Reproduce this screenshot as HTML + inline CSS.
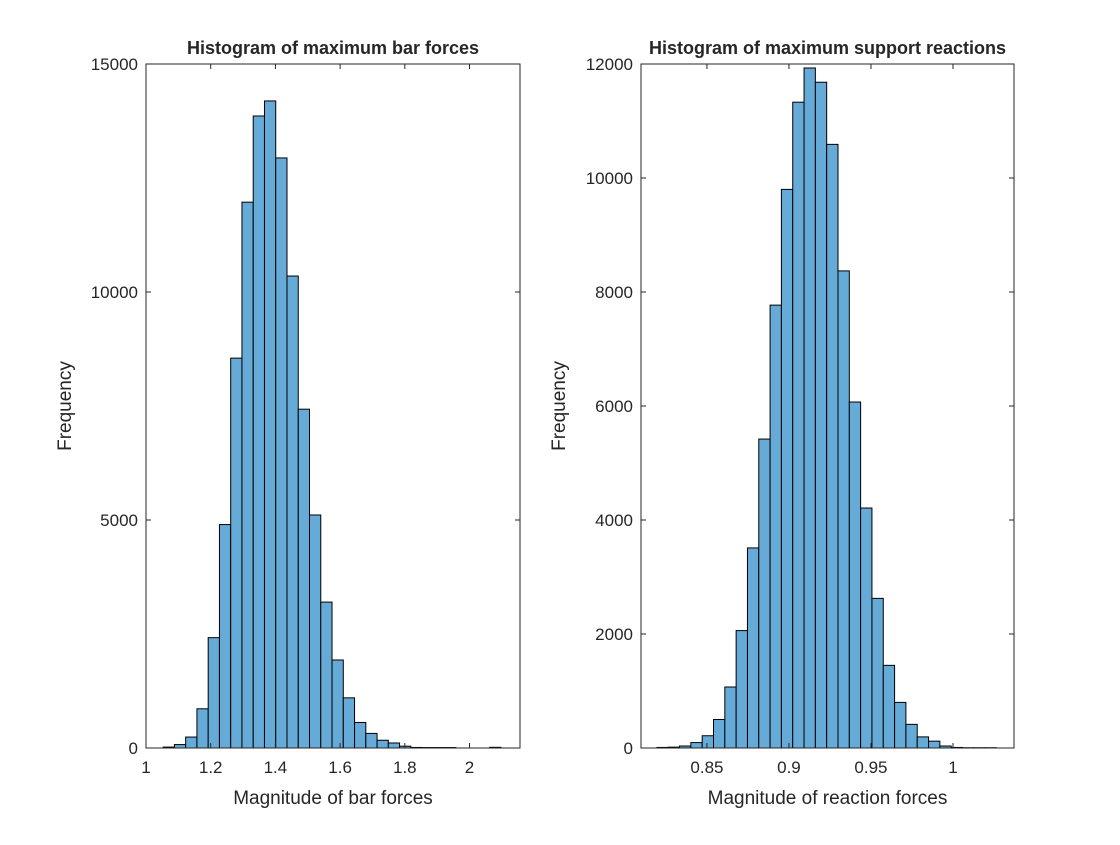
<!DOCTYPE html>
<html><head><meta charset="utf-8"><style>
body{margin:0;background:#fff;}
svg text{font-family:"Liberation Sans",sans-serif;fill:#262626;}
</style></head><body>
<svg id="fig" width="1120" height="840" xmlns="http://www.w3.org/2000/svg">
<rect width="1120" height="840" fill="#fff"/>
</svg>
<script>
const barCounts=[20,75,240,860,2420,4900,8550,11970,13860,14190,12940,10350,7430,5110,3200,1930,1100,560,320,170,110,40,12,10,10,10,0,0,0,15];
const barEdgeStart=1.053, barBinWidth=0.0348;
const barXTicks=[1,1.2,1.4,1.6,1.8,2];
const barXTickLabels=["1","1.2","1.4","1.6","1.8","2"];
const barYTicks=[0,5000,10000,15000];
const reacCounts=[10,15,35,95,215,500,1070,2060,3510,5420,7770,9800,11330,11930,11680,10590,8370,6070,4210,2625,1450,800,415,195,120,35,10,5,5,5];
const reacEdgeStart=0.8195, reacBinWidth=0.0069;
const reacXTicks=[0.85,0.9,0.95,1];
const reacXTickLabels=["0.85","0.9","0.95","1"];
const reacYTicks=[0,2000,4000,6000,8000,10000,12000];

const NS="http://www.w3.org/2000/svg";
const svg=document.getElementById('fig');
function mk(tag,attrs,parent){const e=document.createElementNS(NS,tag);for(const k in attrs)e.setAttribute(k,attrs[k]);(parent||svg).appendChild(e);return e;}

function drawPanel(o){
  const g=mk('g',{});
  
  
  const L=o.L,R=o.R,T=64,B=748;
  const xs=v=>L+(v-o.xmin)/(o.xmax-o.xmin)*(R-L);
  const ys=v=>B-(v/o.ymax)*(B-T);
  o.counts.forEach((c,i)=>{
    if(c<=0)return;
    const x0=xs(o.start+i*o.w),x1=xs(o.start+(i+1)*o.w);
    const r=mk('rect',{x:x0,y:ys(c),width:x1-x0,height:B-ys(c),fill:'#66AAD7',stroke:'#000','stroke-width':1},g);
    
    
  });
  const box=mk('rect',{x:L,y:T,width:R-L,height:B-T,fill:'none',stroke:'#262626','stroke-width':1},g);
  
  
  o.xt.forEach((v,i)=>{
    const x=xs(v);
    mk('line',{x1:x,x2:x,y1:B,y2:B-5,stroke:'#262626'},g);
    mk('line',{x1:x,x2:x,y1:T,y2:T+5,stroke:'#262626'},g);
    const t=mk('text',{x:x,y:B+25,'text-anchor':'middle','font-size':17},g);
    t.textContent=o.xl[i];
    
    
  });
  o.yt.forEach(v=>{
    const y=ys(v);
    mk('line',{x1:L,x2:L+5,y1:y,y2:y,stroke:'#262626'},g);
    mk('line',{x1:R,x2:R-5,y1:y,y2:y,stroke:'#262626'},g);
    const t=mk('text',{x:L-8,y:y+6,'text-anchor':'end','font-size':17},g);
    t.textContent=String(v);
    
    
  });
  const ti=mk('text',{x:(L+R)/2,y:54,'text-anchor':'middle','font-size':18,'font-weight':'bold'},g);
  ti.textContent=o.title;
  
  
  const xl=mk('text',{x:(L+R)/2,y:804,'text-anchor':'middle','font-size':19},g);
  xl.textContent=o.xlabel;
  
  
  const yl=mk('text',{x:o.ylx,y:(T+B)/2,'text-anchor':'middle','font-size':19,transform:`rotate(-90 ${o.ylx} ${(T+B)/2})`},g);
  yl.textContent='Frequency';
  
  
}
drawPanel({name:'bar-forces-histogram',L:146,R:520,xmin:1,xmax:2.156,ymax:15000,counts:barCounts,start:barEdgeStart,w:barBinWidth,xt:barXTicks,xl:barXTickLabels,yt:barYTicks,title:'Histogram of maximum bar forces',xlabel:'Magnitude of bar forces',ylx:71});
drawPanel({name:'support-reactions-histogram',L:641,R:1014,xmin:0.8098,xmax:1.0372,ymax:12000,counts:reacCounts,start:reacEdgeStart,w:reacBinWidth,xt:reacXTicks,xl:reacXTickLabels,yt:reacYTicks,title:'Histogram of maximum support reactions',xlabel:'Magnitude of reaction forces',ylx:565});
</script>
</body></html>
